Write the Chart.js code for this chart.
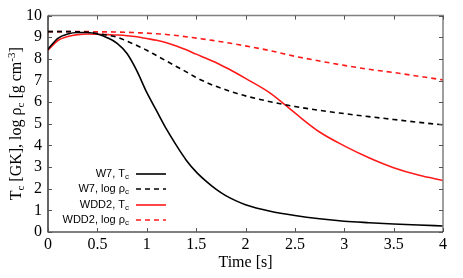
<!DOCTYPE html>
<html>
<head>
<meta charset="utf-8">
<script src="https://cdn.jsdelivr.net/npm/chart.js@4/dist/chart.umd.min.js"></script>
<style>
  html, body { margin: 0; padding: 0; background: #fff; }
  #wrap { width: 463px; height: 278px; }
</style>
</head>
<body>
<div id="wrap"><canvas id="chart" width="463" height="278"></canvas></div>
<script>
// time axis [s]
const times = [0, 0.1, 0.2, 0.3, 0.4, 0.5, 0.6, 0.7, 0.8, 0.9, 1.0, 1.1, 1.2, 1.3, 1.4,
  1.5, 1.6, 1.7, 1.8, 1.9, 2.0, 2.25, 2.5, 2.75, 3.0, 3.25, 3.5, 3.75, 4.0];

// central temperature / density
const w7Tc = [8.45, 8.95, 9.15, 9.22, 9.22, 9.15, 8.98, 8.72, 8.25, 7.45, 6.45, 5.6, 4.75, 4.0, 3.32,
  2.78, 2.35, 1.98, 1.68, 1.45, 1.26, 0.96, 0.76, 0.61, 0.5, 0.43, 0.37, 0.32, 0.28];
const w7Rho = [9.26, 9.26, 9.26, 9.25, 9.23, 9.17, 9.1, 9.0, 8.82, 8.62, 8.4, 8.15, 7.9, 7.65, 7.4,
  7.14, 6.92, 6.73, 6.57, 6.42, 6.29, 6.02, 5.8, 5.62, 5.47, 5.33, 5.2, 5.07, 4.95];
const wdd2Tc = [8.4, 8.85, 9.03, 9.12, 9.15, 9.14, 9.12, 9.1, 9.07, 9.02, 8.94, 8.86, 8.75, 8.6, 8.42,
  8.22, 8.03, 7.83, 7.6, 7.36, 7.1, 6.42, 5.5, 4.62, 3.98, 3.43, 2.97, 2.63, 2.38];
const wdd2Rho = [9.26, 9.26, 9.26, 9.26, 9.26, 9.25, 9.25, 9.24, 9.23, 9.21, 9.19, 9.16, 9.13, 9.08, 9.02,
  8.96, 8.9, 8.83, 8.76, 8.68, 8.6, 8.38, 8.12, 7.9, 7.7, 7.52, 7.37, 7.2, 7.03];

const xTicks = [0, 0.5, 1, 1.5, 2, 2.5, 3, 3.5, 4];
const yTicks = [0, 1, 2, 3, 4, 5, 6, 7, 8, 9, 10];

// legend entries: [model, quantity]
const legendModels = ['W7', 'W7', 'WDD2', 'WDD2'];
const legendQty = ['T', 'log \u03c1', 'T', 'log \u03c1'];

const RED = '#ff1a1a';
const SERIF = '"Liberation Serif", "Times New Roman", serif';
const SANS = '"Liberation Sans", Arial, sans-serif';

function pts(ys) {
  return times.map((t, i) => ({ x: t, y: ys[i] }));
}

const seriesStyle = [
  { data: w7Tc, color: '#000', dash: [] },
  { data: w7Rho, color: '#000', dash: [5, 4] },
  { data: wdd2Tc, color: RED, dash: [] },
  { data: wdd2Rho, color: RED, dash: [5, 4] }
];

// draw text with subscript / superscript pieces along the baseline
function drawPieces(ctx, pieces, x, y, align) {
  let total = 0;
  pieces.forEach(p => { ctx.font = p.font; total += ctx.measureText(p.text).width; });
  let cx = align === 'right' ? x - total : (align === 'center' ? x - total / 2 : x);
  ctx.textAlign = 'left';
  pieces.forEach(p => {
    ctx.font = p.font;
    ctx.fillText(p.text, cx, y + (p.dy || 0));
    cx += ctx.measureText(p.text).width;
  });
}

const framePlugin = {
  id: 'frame',
  afterDraw(chart) {
    const ctx = chart.ctx;
    const a = chart.chartArea;
    const xs = chart.scales.x, ys = chart.scales.y;
    ctx.save();

    // frame
    ctx.lineWidth = 1.5;
    ctx.strokeStyle = '#808080';
    ctx.beginPath();
    ctx.moveTo(a.left, a.top); ctx.lineTo(a.right, a.top); ctx.lineTo(a.right, a.bottom);
    ctx.stroke();
    ctx.lineWidth = 1.2;
    ctx.strokeStyle = '#000';
    ctx.beginPath();
    ctx.moveTo(a.left, a.top); ctx.lineTo(a.left, a.bottom); ctx.lineTo(a.right, a.bottom);
    ctx.stroke();

    // inward ticks, mirrored
    ctx.lineWidth = 1;
    ctx.strokeStyle = '#555';
    ctx.beginPath();
    xTicks.forEach(v => {
      const px = Math.round(xs.getPixelForValue(v)) + 0.5;
      ctx.moveTo(px, a.bottom); ctx.lineTo(px, a.bottom - 4);
      ctx.moveTo(px, a.top); ctx.lineTo(px, a.top + 4);
    });
    yTicks.forEach(v => {
      const py = Math.round(ys.getPixelForValue(v)) + 0.5;
      ctx.moveTo(a.left, py); ctx.lineTo(a.left + 4, py);
      ctx.moveTo(a.right, py); ctx.lineTo(a.right - 4, py);
    });
    ctx.stroke();

    // legend
    const rowY = [174, 189, 205, 220];
    ctx.fillStyle = '#000';
    ctx.textBaseline = 'middle';
    legendModels.forEach((m, i) => {
      drawPieces(ctx, [
        { text: m + ', ' + legendQty[i], font: '11px ' + SANS },
        { text: 'c', font: '8px ' + SANS, dy: 3 }
      ], 129, rowY[i], 'right');
      const st = seriesStyle[i];
      ctx.strokeStyle = st.color;
      ctx.lineWidth = 1.6;
      ctx.setLineDash(st.dash);
      ctx.beginPath();
      ctx.moveTo(136, rowY[i]); ctx.lineTo(166, rowY[i]);
      ctx.stroke();
      ctx.setLineDash([]);
    });

    // axis titles
    ctx.fillStyle = '#000';
    ctx.textBaseline = 'alphabetic';
    drawPieces(ctx, [{ text: 'Time [s]', font: '16px ' + SERIF }],
      (a.left + a.right) / 2, 267, 'center');

    ctx.translate(21, (a.top + a.bottom) / 2);
    ctx.rotate(-Math.PI / 2);
    drawPieces(ctx, [
      { text: 'T', font: '16px ' + SERIF },
      { text: 'c', font: '11px ' + SERIF, dy: 3 },
      { text: ' [GK], log \u03c1', font: '16px ' + SERIF },
      { text: 'c', font: '11px ' + SERIF, dy: 3 },
      { text: ' [g cm', font: '16px ' + SERIF },
      { text: '-3', font: '11px ' + SERIF, dy: -6 },
      { text: ']', font: '16px ' + SERIF }
    ], 0, 0, 'center');
    ctx.restore();
  }
};

const datasets = seriesStyle.map(s => ({
  data: pts(s.data),
  borderColor: s.color,
  borderWidth: 1.6,
  borderDash: s.dash,
  pointRadius: 0,
  fill: false,
  cubicInterpolationMode: 'monotone'
}));

new Chart(document.getElementById('chart').getContext('2d'), {
  type: 'line',
  data: { datasets: datasets },
  options: {
    responsive: false,
    animation: false,
    layout: { padding: { top: 14, right: 20, left: 0, bottom: 0 } },
    plugins: { legend: { display: false }, tooltip: { enabled: false } },
    scales: {
      x: {
        type: 'linear',
        min: 0, max: 4,
        afterFit(scale) { scale.height = 46; },
        afterBuildTicks(scale) { scale.ticks = xTicks.map(v => ({ value: v })); },
        grid: { display: false, drawTicks: false },
        border: { display: false },
        ticks: {
          autoSkip: false, maxRotation: 0, padding: 3, color: '#000',
          font: { family: SERIF, size: 16 },
          callback: v => String(v)
        }
      },
      y: {
        min: 0, max: 10,
        afterFit(scale) { scale.width = 48; },
        afterBuildTicks(scale) { scale.ticks = yTicks.map(v => ({ value: v })); },
        grid: { display: false, drawTicks: false },
        border: { display: false },
        ticks: {
          autoSkip: false, padding: 6, color: '#000',
          font: { family: SERIF, size: 16 },
          callback: v => String(v)
        }
      }
    }
  },
  plugins: [framePlugin]
});
</script>
</body>
</html>
